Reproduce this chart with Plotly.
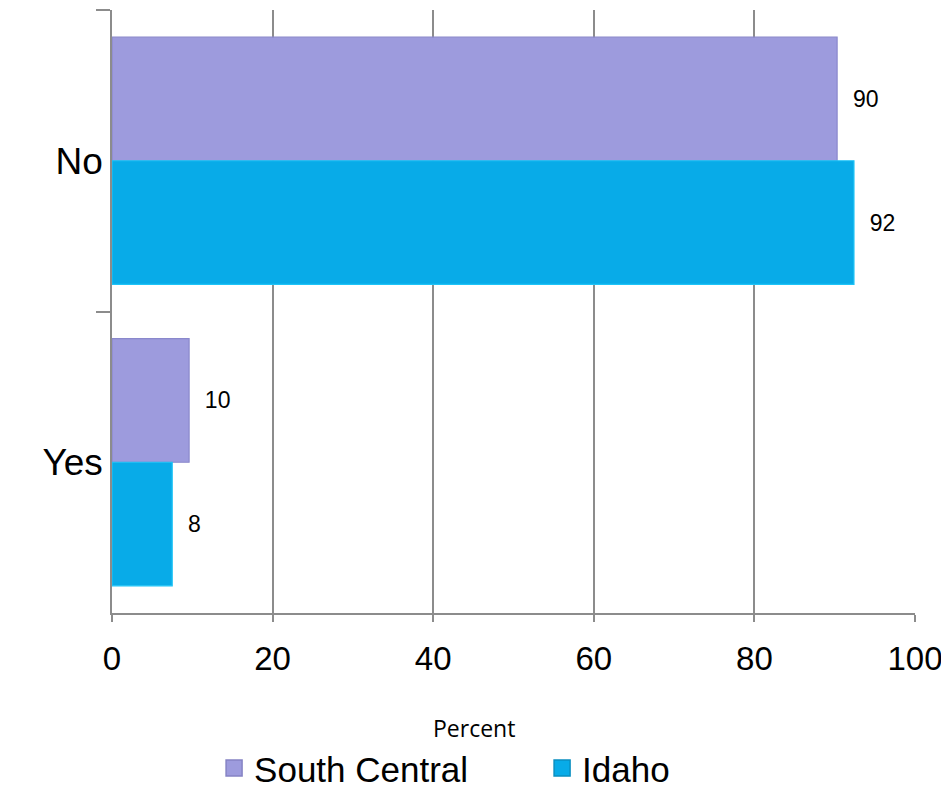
import plotly.graph_objects as go

categories = ['No', 'Yes']
south_central = [90.3, 9.6]
idaho = [92.4, 7.5]
x_ticks = [0, 20, 40, 60, 80, 100]

sc_color = '#9d9bdd'
id_color = '#08abe8'
label_font = dict(size=23, color='black', family='Liberation Sans')

fig = go.Figure()
fig.add_trace(go.Bar(
    y=categories, x=south_central, name='South Central', orientation='h', showlegend=False,
    marker=dict(color=sc_color, line=dict(color='#8a88cc', width=1.2)),
    texttemplate='\u00a0\u00a0%{x:.0f}', textposition='outside', cliponaxis=False,
    textfont=label_font))
fig.add_trace(go.Bar(
    y=categories, x=idaho, name='Idaho', orientation='h', showlegend=False,
    marker=dict(color=id_color, line=dict(color='#1ec4f7', width=1.2)),
    texttemplate='\u00a0\u00a0%{x:.0f}', textposition='outside', cliponaxis=False,
    textfont=label_font))

# legend entries with bigger square swatches
fig.add_trace(go.Scatter(x=[None], y=[None], mode='markers', name='South Central',
                         marker=dict(symbol='square', size=16, color=sc_color,
                                     line=dict(color='#8583c4', width=1.5))))
fig.add_trace(go.Scatter(x=[None], y=[None], mode='markers', name='Idaho',
                         marker=dict(symbol='square', size=16, color=id_color,
                                     line=dict(color='#0a8fc0', width=1.5))))

# page body has an 8px margin, so the figure is drawn a bit smaller
fig.update_layout(
    width=941, height=783,
    margin=dict(l=104, r=34, t=2, b=178),
    barmode='group', bargap=0.18, bargroupgap=0,
    plot_bgcolor='white', paper_bgcolor='white',
    font=dict(family='Liberation Sans', color='black'),
    showlegend=True,
    legend=dict(orientation='h', xref='container', yref='container',
                x=0.219, xanchor='left', y=0.029, yanchor='middle',
                font=dict(size=35), traceorder='normal', itemwidth=30,
                entrywidthmode='pixels', entrywidth=283, bgcolor='rgba(0,0,0,0)'),
    annotations=[dict(text='Percent', xref='paper', yref='paper', x=0.451,
                      y=-115 / 603, yanchor='middle',
                      showarrow=False, font=dict(size=23, family='Open Sans'))],
)
fig.update_xaxes(
    range=[0, 100], tickvals=x_ticks, showgrid=True, gridcolor='#8c8c8c', gridwidth=1.5,
    showline=True, linecolor='#8c8c8c', linewidth=1.5, ticks='outside', ticklen=7,
    tickcolor='#8c8c8c', tickwidth=1.5, tickfont=dict(size=33), zeroline=False,
    automargin=False, ticklabelstandoff=9)
fig.update_yaxes(
    categoryorder='array', categoryarray=categories, autorange='reversed',
    tickson='boundaries', ticks='outside', ticklen=14, tickcolor='#8c8c8c', tickwidth=1.5,
    showline=True, linecolor='#8c8c8c', linewidth=1.5, showgrid=False,
    tickfont=dict(size=37), automargin=False, ticklabelstandoff=0)

fig.write_html('out.html')
